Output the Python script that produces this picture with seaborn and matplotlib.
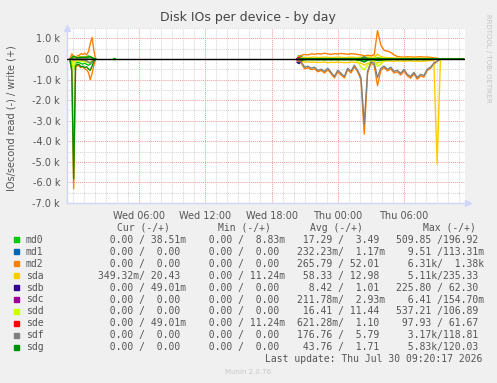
import numpy as np
import pandas as pd
import matplotlib
matplotlib.use("Agg")
import matplotlib.pyplot as plt
import seaborn as sns

# ---------------- data ----------------
devices = ["md0", "md1", "md2", "sda", "sdb", "sdc", "sdd", "sde", "sdf", "sdg"]
colors = ["#00CC00", "#0066B3", "#FF8000", "#FFCC00", "#330099",
          "#990099", "#CCFF00", "#FF0000", "#808080", "#008F00"]

# hours since Wed 00:00
t_seg1 = [-0.25, -0.083, 0.083, 0.25, 0.417, 0.583, 0.75, 0.917, 1.083,
          1.25, 1.417, 1.583, 1.75, 1.917, 2.083]
t_seg2 = [20.4, 20.7, 21.0, 21.3, 21.6, 21.9, 22.2, 22.5, 22.8, 23.1,
          23.4, 23.7, 24.0, 24.3, 24.6, 24.9, 25.2, 25.5, 25.8, 26.1,
          26.4, 26.7, 27.0, 27.3, 27.6, 27.9, 28.2, 28.5, 28.8, 29.1,
          29.4, 29.7, 30.0, 30.3, 30.6, 30.9, 31.2, 31.5, 31.8, 32.1,
          32.4, 32.7, 33.0, 33.3, 33.6, 33.9, 34.2, 34.5, 34.8, 35.1, 35.4]

# segment 1 (write / read, IOs per second)
md0_w1 = [20, 80, 150, 100, 60, 90, 120, 100, 80, 110, 150, 120, 60, 20, 0]
md0_r1 = [30, 150, 510, 200, 150, 180, 220, 250, 200, 260, 300, 250, 150, 50, 0]
md2_w1 = [0, 250, 120, 80, 150, 180, 260, 220, 280, 200, 350, 750, 1050, 400, 0]
md2_r1 = [100, 500, 6310, 450, 300, 350, 420, 380, 480, 520, 650, 1000, 700, 300, 0]
sda_w1 = [10, 60, 100, 120, 80, 90, 100, 80, 110, 90, 100, 120, 80, 30, 0]
sda_r1 = [10, 80, 150, 120, 60, 80, 100, 90, 120, 80, 150, 200, 100, 40, 0]
sdd_w1 = [0, 40, 80, 60, 50, 60, 70, 50, 60, 50, 70, 100, 60, 20, 0]
sdd_r1 = [0, 60, 537, 100, 80, 90, 100, 120, 150, 120, 180, 150, 80, 30, 0]
sdf_w1 = [0, 10, 20, 10, 10, 10, 20, 10, 20, 30, 40, 50, 30, 10, 0]
sdf_r1 = [0, 20, 50, 30, 20, 30, 40, 50, 60, 100, 150, 200, 120, 40, 0]
sdg_w1 = [10, 60, 120, 90, 60, 70, 80, 70, 90, 80, 100, 110, 70, 20, 0]
sdg_r1 = [40, 600, 5830, 350, 250, 280, 380, 350, 420, 380, 480, 550, 350, 100, 0]

# segment 2
md0_w2 = [150, 120, 10, 8, 10, 8, 10, 8, 10, 8, 10, 8, 10, 8, 10, 8, 10, 8, 10, 12,
          15, 10, 8, 10, 20, 15, 10, 8, 10, 8, 10, 8, 10, 8, 10, 8, 10, 8, 10, 8,
          8, 5, 0, 0, 0, 0, 0, 0, 0, 0, 0]
md0_r2 = [200, 100, 20, 10, 15, 10, 15, 10, 15, 10, 15, 10, 15, 10, 15, 10, 15, 10, 20, 40,
          60, 30, 15, 10, 50, 30, 15, 10, 15, 10, 15, 10, 15, 10, 15, 10, 15, 10, 15, 10,
          10, 5, 0, 0, 0, 0, 0, 0, 0, 0, 0]
md2_w2 = [100, 180, 220, 200, 250, 230, 260, 240, 280, 250, 220, 260, 240, 270, 250, 230, 260, 240, 220, 200,
          150, 180, 160, 200, 1380, 680, 420, 380, 320, 200, 120, 100, 90, 110, 100, 90, 100, 110, 90, 100,
          80, 60, 40, 0, 0, 0, 0, 0, 0, 0, 0]
md2_r2 = [80, 200, 480, 420, 520, 480, 620, 560, 680, 520, 720, 920, 620, 780, 920, 520, 680, 380, 620, 1000,
          3650, 700, 200, 300, 1300, 550, 420, 580, 480, 680, 620, 780, 580, 820, 930, 720, 980, 820, 880, 560,
          450, 250, 120, 0, 0, 0, 0, 0, 0, 0, 0]
sda_w2 = [20, 60, 80, 70, 80, 90, 70, 80, 90, 80, 70, 80, 90, 80, 70, 80, 90, 80, 70, 90,
          100, 80, 90, 80, 235, 120, 80, 70, 60, 50, 40, 50, 40, 50, 40, 30, 40, 30, 40, 30,
          30, 25, 20, 20, 20, 20, 20, 20, 20, 20, 20]
sda_r2 = [30, 120, 150, 140, 160, 150, 170, 160, 150, 180, 160, 170, 150, 160, 180, 170, 150, 160, 180, 200,
          300, 200, 150, 120, 200, 150, 100, 90, 100, 110, 90, 100, 120, 100, 90, 110, 100, 120, 100, 90,
          80, 60, 5110, 0, 0, 0, 0, 0, 0, 0, 0]
sdd_w2 = [0, 20, 30, 25, 30, 25, 30, 25, 30, 25, 30, 25, 30, 25, 30, 25, 30, 30, 40, 60,
          107, 60, 40, 30, 80, 60, 30, 25, 20, 20, 20, 20, 20, 20, 20, 20, 20, 20, 20, 20,
          20, 10, 0, 0, 0, 0, 0, 0, 0, 0, 0]
sdd_r2 = [0, 20, 30, 20, 30, 20, 30, 20, 30, 20, 30, 20, 30, 20, 30, 20, 30, 40, 100, 400,
          530, 300, 100, 60, 350, 250, 80, 40, 30, 20, 30, 20, 30, 20, 30, 20, 30, 20, 30, 20,
          20, 10, 0, 0, 0, 0, 0, 0, 0, 0, 0]
sdf_w2 = [5, 10, 8, 10, 8, 10, 8, 10, 8, 10, 8, 10, 8, 10, 8, 10, 8, 10, 8, 20,
          119, 20, 10, 8, 30, 15, 10, 8, 10, 8, 10, 8, 10, 8, 10, 8, 10, 8, 10, 8,
          8, 5, 0, 0, 0, 0, 0, 0, 0, 0, 0]
sdf_r2 = [50, 150, 400, 350, 450, 400, 550, 500, 600, 450, 650, 850, 550, 700, 850, 450, 600, 300, 550, 900,
          3170, 600, 150, 200, 900, 450, 350, 500, 400, 600, 550, 700, 500, 750, 850, 650, 900, 750, 800, 500,
          400, 200, 100, 0, 0, 0, 0, 0, 0, 0, 0]
sdg_w2 = [5, 15, 20, 15, 20, 15, 20, 15, 20, 15, 20, 15, 20, 15, 20, 15, 20, 15, 20, 25,
          40, 25, 20, 15, 30, 20, 15, 10, 15, 10, 15, 10, 15, 10, 15, 10, 15, 10, 15, 10,
          10, 5, 0, 0, 0, 0, 0, 0, 0, 0, 0]
sdg_r2 = [0, 30, 40, 30, 40, 30, 40, 30, 40, 30, 40, 30, 40, 30, 40, 30, 40, 30, 50, 80,
          150, 60, 40, 30, 80, 60, 40, 30, 30, 20, 30, 20, 30, 20, 30, 20, 30, 20, 30, 20,
          20, 10, 0, 0, 0, 0, 0, 0, 0, 0, 0]

# short bursts of the quiet devices
md0_t3 = [3.65, 3.85]
md0_w3 = [40, 40]
md0_r3 = [0, 0]
md1_t = [20.3, 20.5, 20.7, 20.9]
md1_w = [0.1, 0.11, 0.05, 0]
md1_r = [5, 9.51, 2, 0]
sdb_t = [20.3, 20.5, 20.7, 20.9]
sdb_w = [20, 62, 10, 0]
sdb_r = [150, 225, 60, 0]
sdc_t = [20.3, 20.5, 20.7, 20.9]
sdc_w = [0.1, 0.15, 0.05, 0]
sdc_r = [3, 6.41, 1, 0]
sde_t = [20.3, 20.5, 20.7, 20.9]
sde_w = [30, 62, 20, 0]
sde_r = [60, 98, 40, 0]

# legend table
cur_txt = ["  0.00 / 38.51m", "  0.00 /  0.00 ", "  0.00 /  0.00 ", "349.32m/ 20.43 ",
           "  0.00 / 49.01m", "  0.00 /  0.00 ", "  0.00 /  0.00 ", "  0.00 / 49.01m",
           "  0.00 /  0.00 ", "  0.00 /  0.00 "]
min_txt = ["  0.00 /  8.83m", "  0.00 /  0.00 ", "  0.00 /  0.00 ", "  0.00 / 11.24m",
           "  0.00 /  0.00 ", "  0.00 /  0.00 ", "  0.00 /  0.00 ", "  0.00 / 11.24m",
           "  0.00 /  0.00 ", "  0.00 /  0.00 "]
avg_txt = [" 17.29 /  3.49 ", "232.23m/  1.17m", "265.79 / 52.01 ", " 58.33 / 12.98 ",
           "  8.42 /  1.01 ", "211.78m/  2.93m", " 16.41 / 11.44 ", "621.28m/  1.10 ",
           "176.76 /  5.79 ", " 43.76 /  1.71 "]
max_txt = ["509.85 /196.92 ", "  9.51 /113.31m", "  6.31k/  1.38k", "  5.11k/235.33 ",
           "225.80 / 62.30 ", "  6.41 /154.70m", "537.21 /106.89 ", " 97.93 / 61.67 ",
           "  3.17k/118.81 ", "  5.83k/120.03 "]
headers = ["Cur (-/+)", "Min (-/+)", "Avg (-/+)", "Max (-/+)"]
x_tick_hours = [6, 12, 18, 24, 30]
x_tick_labels = ["Wed 06:00", "Wed 12:00", "Wed 18:00", "Thu 00:00", "Thu 06:00"]
y_ticks = [1000, 0, -1000, -2000, -3000, -4000, -5000, -6000, -7000]
y_tick_labels = ["1.0 k", "0.0", "-1.0 k", "-2.0 k", "-3.0 k", "-4.0 k", "-5.0 k", "-6.0 k", "-7.0 k"]

# ---------------- build long table ----------------
rows = []
def add(dev, times, w, r, seg):
    assert len(times) == len(w) == len(r), (dev, seg)
    for t, a, b in zip(times, w, r):
        rows.append((dev, "w" + seg, t, a))
    for t, a, b in zip(times, w, r):
        rows.append((dev, "r" + seg, t, -b))

g = globals()
for d in ["md0", "md2", "sda", "sdd", "sdf", "sdg"]:
    add(d, t_seg1, g[d + "_w1"], g[d + "_r1"], "1")
    add(d, t_seg2, g[d + "_w2"], g[d + "_r2"], "2")
add("md0", md0_t3, md0_w3, md0_r3, "3")
add("md1", md1_t, md1_w, md1_r, "2")
add("sdb", sdb_t, sdb_w, sdb_r, "2")
add("sdc", sdc_t, sdc_w, sdc_r, "2")
add("sde", sde_t, sde_w, sde_r, "2")
df = pd.DataFrame(rows, columns=["device", "unit", "hour", "value"])

# ---------------- figure ----------------
W, H = 497, 383
BG = "#F0F0F0"
TXT = "#555555"
fig = plt.figure(figsize=(W / 100, H / 100), dpi=100, facecolor=BG)
sns.set_style("white")
plt.rcParams["font.family"] = ["DejaVu Sans"]

x0_px, x1_px, ytop_px, ybot_px = 67, 465, 28, 203
ax = fig.add_axes([x0_px / W, 1 - ybot_px / H, (x1_px - x0_px) / W, (ybot_px - ytop_px) / H])
ax.set_facecolor("white")

px_per_h = 265 / 24.0
xmin = 6 - (139 - x0_px) / px_per_h
xmax = xmin + (x1_px - x0_px) / px_per_h
ymin, ymax = -7000, 1507
ax.set_xlim(xmin, xmax)
ax.set_ylim(ymin, ymax)

# grid
dot = (0, (1, 1))
for h in np.arange(0, 36, 1):
    if h in x_tick_hours:
        continue
    ax.axvline(h, color="#D6D6D6", lw=0.75, ls=dot, zorder=0)
for v in np.arange(-6500, 1600, 1000):
    ax.axhline(v, color="#D6D6D6", lw=0.75, ls=dot, zorder=0)
for h in x_tick_hours:
    ax.axvline(h, color="#F2A0A0", lw=0.75, ls=dot, zorder=0.5)
for v in y_ticks:
    ax.axhline(v, color="#F2A0A0", lw=0.75, ls=dot, zorder=0.5)

sns.lineplot(data=df, x="hour", y="value", hue="device", units="unit",
             estimator=None, sort=False, hue_order=devices,
             palette=dict(zip(devices, colors)), linewidth=1.0,
             legend=False, ax=ax, zorder=2)

ax.axhline(0, color="black", lw=1.0, zorder=3)

# axes styling
for s in ["top", "right"]:
    ax.spines[s].set_visible(False)
AX = "#CFD6F8"
for s in ["left", "bottom"]:
    ax.spines[s].set_color(AX)
    ax.spines[s].set_linewidth(1.0)
ax.set_xlabel("")
ax.set_ylabel("")
ax.set_xticks(x_tick_hours)
ax.set_xticklabels(x_tick_labels)
ax.set_yticks(y_ticks)
ax.set_yticklabels(y_tick_labels)
ax.tick_params(axis="both", length=2, width=0.8, color=AX, labelsize=7,
               labelcolor=TXT, pad=3)
ax.tick_params(axis="x", pad=4)

# arrows
ax.plot([xmin], [ymax], marker="^", ms=4.5, color=AX, clip_on=False,
        transform=ax.transData, zorder=5)
ax.plot([xmax + 0.25], [ymin], marker=">", ms=4.5, color=AX, clip_on=False, zorder=5)

# texts
fig.text(248 / W, 1 - 18 / H, "Disk IOs per device - by day", ha="center", va="center",
         fontsize=9, color="#444444")
fig.text(12 / W, 1 - 118 / H, "IOs/second read (-) / write (+)", rotation=90,
         ha="center", va="center", fontsize=7, color=TXT)
fig.text(488 / W, 1 - 58 / H, "RRDTOOL / TOBI OETIKER", rotation=-90, ha="center",
         va="center", fontsize=5, color="#C4C4C4")

mono = "DejaVu Sans Mono"
fs = 7
header_x = [116.7, 218, 310, 422.7]
for hx, ht in zip(header_x, headers):
    fig.text(hx / W, 1 - 228 / H, ht, ha="left", va="center", family=mono,
             fontsize=fs, color=TXT)
cell_x = [97.7, 197.4, 296.7, 395.7]
row_y0, row_dy = 239.7, 11.96
for i, d in enumerate(devices):
    y = 1 - (row_y0 + i * row_dy) / H
    fig.patches.append(plt.Rectangle((13.5 / W, y - 2.6 / H), 5 / W, 5 / H,
                                     transform=fig.transFigure, color=colors[i],
                                     figure=fig))
    fig.text(26 / W, y, d, ha="left", va="center", family=mono, fontsize=fs, color=TXT)
    for cx, col in zip(cell_x, [cur_txt, min_txt, avg_txt, max_txt]):
        fig.text(cx / W, y, col[i], ha="left", va="center", family=mono,
                 fontsize=fs, color=TXT)
fig.text(482.5 / W, 1 - 359.3 / H, "Last update: Thu Jul 30 09:20:17 2026", ha="right",
         va="center", family=mono, fontsize=fs, color=TXT)
fig.text(248 / W, 1 - 372.3 / H, "Munin 2.0.76", ha="center", va="center",
         fontsize=5, color="#C8C8C8")

fig.savefig("out.png", dpi=100, facecolor=BG)
